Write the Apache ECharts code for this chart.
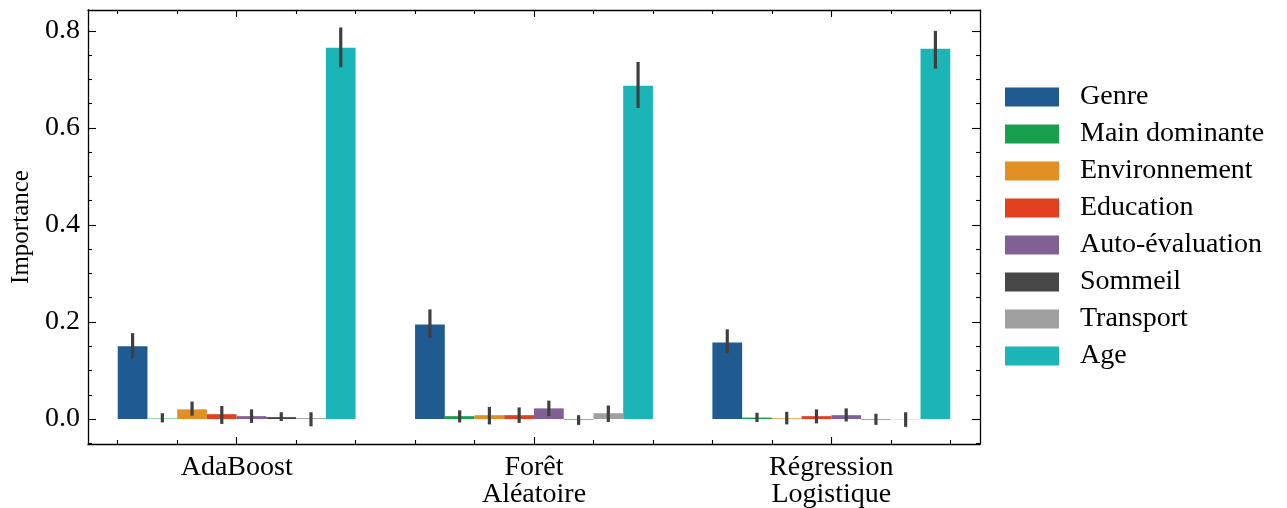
<!DOCTYPE html>
<html>
<head>
<meta charset="utf-8">
<script src="https://cdn.jsdelivr.net/npm/echarts@6/dist/echarts.min.js"></script>
<style>
html,body{margin:0;padding:0;background:#fff;}
#chart{width:1287px;height:508px;}
</style>
</head>
<body>
<div id="chart"></div>
<script>
const models = ['AdaBoost', 'Forêt\nAléatoire', 'Régression\nLogistique'];
const features = ['Genre', 'Main dominante', 'Environnement', 'Education', 'Auto-évaluation', 'Sommeil', 'Transport', 'Age'];
const colors = ['#1f5b91', '#18a04e', '#e29023', '#e04221', '#816194', '#474747', '#a0a0a0', '#1bb5b8'];

// mean importance per feature, one array per model
const adaMean  = [0.150, 0.001, 0.020, 0.010, 0.006, 0.004, 0.002, 0.765];
const adaLow   = [0.125, -0.007, 0.007, -0.010, -0.008, -0.004, -0.015, 0.725];
const adaHigh  = [0.177, 0.012, 0.036, 0.027, 0.020, 0.014, 0.014, 0.807];

const rfMean   = [0.195, 0.006, 0.008, 0.008, 0.022, -0.001, 0.012, 0.687];
const rfLow    = [0.167, -0.007, -0.011, -0.008, 0.006, -0.012, -0.006, 0.641];
const rfHigh   = [0.226, 0.018, 0.025, 0.024, 0.038, 0.008, 0.028, 0.736];

const lrMean   = [0.158, 0.003, 0.0015, 0.006, 0.008, -0.001, -0.0005, 0.763];
const lrLow    = [0.136, -0.006, -0.011, -0.009, -0.005, -0.012, -0.016, 0.722];
const lrHigh   = [0.185, 0.013, 0.015, 0.020, 0.022, 0.011, 0.014, 0.800];

const yTicks = [0, 0.2, 0.4, 0.6, 0.8];
const yMinorTicks = [-0.05, 0.05, 0.1, 0.15, 0.25, 0.3, 0.35, 0.45, 0.5, 0.55, 0.65, 0.7, 0.75];
const xMajorTicks = [0, 1, 2];
const xMinorTicks = [-0.4, -0.2, 0.2, 0.4, 0.6, 0.8, 1.2, 1.4, 1.6, 1.8, 2.2, 2.4];

const means = [adaMean, rfMean, lrMean];
const lows = [adaLow, rfLow, lrLow];
const highs = [adaHigh, rfHigh, lrHigh];

const FONT = 'Liberation Serif';
const chart = echarts.init(document.getElementById('chart'), null, {renderer: 'canvas'});

const barSeries = features.map((f, i) => ({
  name: f,
  type: 'bar',
  xAxisIndex: 0,
  yAxisIndex: 0,
  barGap: '0%',
  barCategoryGap: '20%',
  itemStyle: {color: colors[i]},
  emphasis: {disabled: true},
  data: means.map(m => m[i])
}));

const errData = [];
for (let c = 0; c < models.length; c++) {
  for (let i = 0; i < features.length; i++) {
    errData.push([c, i, lows[c][i], highs[c][i]]);
  }
}
const nF = features.length;
const errSeries = {
  type: 'custom',
  xAxisIndex: 0,
  yAxisIndex: 0,
  z: 10,
  silent: true,
  data: errData,
  renderItem: function (params, api) {
    const c = api.value(0), i = api.value(1);
    const catW = api.size([1, 0])[0];
    const barW = catW * 0.8 / nF;
    const off = -catW * 0.4 + barW * (i + 0.5);
    const p1 = api.coord([c, api.value(2)]);
    const p2 = api.coord([c, api.value(3)]);
    return {
      type: 'line',
      shape: {x1: p1[0] + off, y1: p1[1], x2: p2[0] + off, y2: p2[1]},
      style: {stroke: '#3f3f3f', lineWidth: 3.2}
    };
  }
};

const axisLine = {show: true, onZero: false, lineStyle: {color: '#000', width: 1.3}};
const noLine = {show: false, onZero: false};
const tickStyle = {color: '#000', width: 1.1};
const yMin = -0.0514, yMax = 0.843;

const option = {
  animation: false,
  backgroundColor: '#fff',
  grid: {left: 88, right: 307, top: 10, bottom: 64, containLabel: false, outerBoundsMode: 'none'},
  legend: {
    orient: 'vertical',
    left: 1000,
    top: 78,
    itemWidth: 54,
    itemHeight: 19,
    itemGap: 9,
    icon: 'rect',
    data: features,
    textStyle: {fontFamily: FONT, fontSize: 28, color: '#000', padding: [0, 0, 0, 16]}
  },
  xAxis: [
    {
      type: 'category', position: 'bottom', data: models,
      axisLine: axisLine,
      axisTick: {show: true, inside: true, alignWithLabel: true, length: 7, lineStyle: tickStyle},
      axisLabel: {fontFamily: FONT, fontSize: 28, color: '#000', margin: 10, lineHeight: 27},
      splitLine: {show: false}
    },
    {
      type: 'value', position: 'bottom', min: -0.5, max: 2.5,
      axisLine: noLine,
      axisTick: {show: true, inside: true, length: 4, customValues: xMinorTicks, lineStyle: tickStyle},
      axisLabel: {show: false}, splitLine: {show: false}
    },
    {
      type: 'value', position: 'top', min: -0.5, max: 2.5,
      axisLine: axisLine,
      axisTick: {show: true, inside: true, length: 7, customValues: xMajorTicks, lineStyle: tickStyle},
      axisLabel: {show: false}, splitLine: {show: false}
    },
    {
      type: 'value', position: 'top', min: -0.5, max: 2.5,
      axisLine: noLine,
      axisTick: {show: true, inside: true, length: 4, customValues: xMinorTicks, lineStyle: tickStyle},
      axisLabel: {show: false}, splitLine: {show: false}
    }
  ],
  yAxis: [
    {
      type: 'value', position: 'left', min: yMin, max: yMax,
      name: 'Importance', nameLocation: 'middle', nameGap: 54,
      nameTextStyle: {fontFamily: FONT, fontSize: 25, color: '#000'},
      axisLine: axisLine,
      axisTick: {show: true, inside: true, length: 8, customValues: yTicks, lineStyle: tickStyle},
      axisLabel: {fontFamily: FONT, fontSize: 28, color: '#000', margin: 8, customValues: yTicks,
                  formatter: v => v.toFixed(1)},
      splitLine: {show: false}
    },
    {
      type: 'value', position: 'left', min: yMin, max: yMax,
      axisLine: noLine,
      axisTick: {show: true, inside: true, length: 4, customValues: yMinorTicks, lineStyle: tickStyle},
      axisLabel: {show: false}, splitLine: {show: false}
    },
    {
      type: 'value', position: 'right', min: yMin, max: yMax,
      axisLine: axisLine,
      axisTick: {show: true, inside: true, length: 8, customValues: yTicks, lineStyle: tickStyle},
      axisLabel: {show: false}, splitLine: {show: false}
    },
    {
      type: 'value', position: 'right', min: yMin, max: yMax,
      axisLine: noLine,
      axisTick: {show: true, inside: true, length: 4, customValues: yMinorTicks, lineStyle: tickStyle},
      axisLabel: {show: false}, splitLine: {show: false}
    }
  ],
  series: barSeries.concat([errSeries])
};
chart.setOption(option);
</script>
</body>
</html>
